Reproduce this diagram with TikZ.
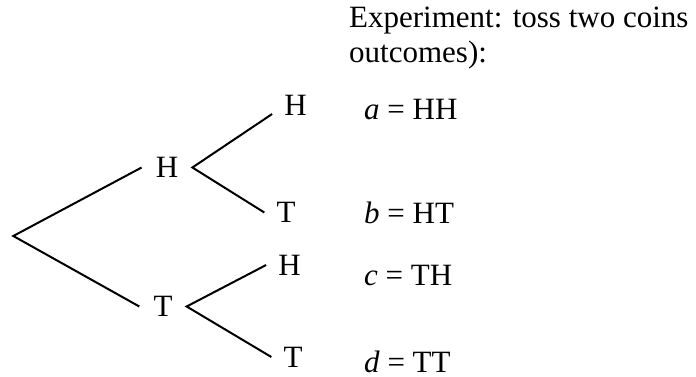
\documentclass[tikz,border=0pt]{standalone}
\usepackage{fontspec}
\setmainfont{Liberation Serif}
\usepackage{tikz}
\tikzset{
	coin/.style={inner xsep=14pt,inner ysep=3pt,font=\fontsize{31}{37}\selectfont},
	leaf/.style={coin,inner xsep=12pt},
	branch/.style={line width=2pt},
	outcome/.style={anchor=base west,inner sep=0pt,font=\fontsize{31}{37}\selectfont}
}

\begin{document}
\begin{tikzpicture}[x=1pt,y=-1pt]
		\useasboundingbox (0,0) rectangle (696,377);
		\coordinate (root) at (13.3,236);
		\node[coin] (H) at (167,167.5) {H};
		\node[coin] (T) at (163,306.5) {T};
		\node[leaf] (HH) at (295.5,105.5) {H};
		\node[leaf] (HT) at (286,212.5) {T};
		\node[leaf] (TH) at (289.5,265) {H};
		\node[leaf] (TT) at (293,357) {T};
		\draw[branch] (H.west)--(root)--(T.west);
		\draw[branch] (HH.200)--(H.east)--(HT.west);
		\draw[branch] (TH.west)--(T.east)--(TT.west);
		\node[outcome] (exp) at (349,28) {Experiment: toss two coins};
		\node[outcome] (outc) at (349,63) {outcomes):};
		\node[outcome] (a) at (364,120) {\textit{a} = HH};
		\node[outcome] (b) at (364,223) {\textit{b} = HT};
		\node[outcome] (c) at (364,285) {\textit{c} = TH};
		\node[outcome] (d) at (364,372) {\textit{d} = TT};
	\end{tikzpicture}
\end{document}
